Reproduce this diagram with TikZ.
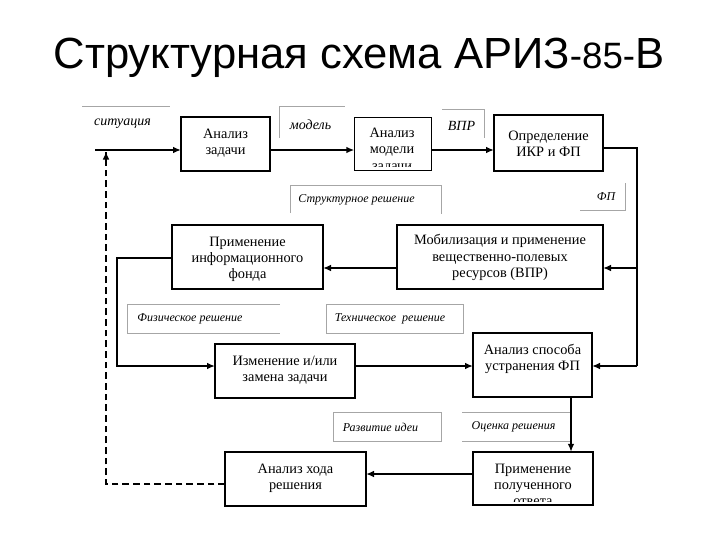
\documentclass[tikz,border=0pt]{standalone}
\usepackage{fontspec}
\setmainfont{Liberation Serif}
\newfontfamily\titlefont{Liberation Sans}
\usetikzlibrary{arrows.meta}
\begin{document}
\begin{tikzpicture}[x=0.75pt,y=-0.75pt,
  box/.style={draw,line width=1.1pt,inner sep=0pt,outer sep=0pt},
  txt/.style={align=center,inner sep=0pt,font=\fontsize{10.75}{12.2}\selectfont},
  lab/.style={inner sep=0pt,font=\fontsize{9}{10}\selectfont\itshape},
  labbig/.style={inner sep=0pt,font=\fontsize{10.5}{12}\selectfont\itshape},
  frame/.style={draw=black!35,line width=0.6pt},
  arr/.style={line width=1.7pt,-{Latex[length=6pt,width=5pt]}},
  thinarr/.style={line width=1.1pt,-{Latex[length=6pt,width=5pt]}},
  dashline/.style={line width=1.5pt,dash pattern=on 5pt off 3pt}
]
\useasboundingbox (0,0) rectangle (720,540);
% title
\node[anchor=base,inner sep=0pt,font=\titlefont\fontsize{32.7}{36}\selectfont] (title) at (359,68)
  {Структурная схема АРИЗ{\fontsize{27.5}{30}\selectfont-85-}В};

% boxes
\node[box,minimum width=66.75pt,minimum height=40.5pt] (b1) at (225.5,144) {};
\node[box,minimum width=58pt,minimum height=39.75pt] (b2) at (393,144) {};
\node[box,minimum width=81.75pt,minimum height=42pt] (b3) at (548.5,143) {};
\node[box,minimum width=113.25pt,minimum height=48pt] (b4) at (247.5,257) {};
\node[box,minimum width=154.5pt,minimum height=48pt] (b5) at (500,257) {};
\node[box,minimum width=105pt,minimum height=40.5pt] (b6) at (285,371) {};
\node[box,minimum width=89.25pt,minimum height=48pt] (b7) at (532.5,365) {};
\node[box,minimum width=90pt,minimum height=40pt] (b8) at (533,478.5) {};
\node[box,minimum width=105.75pt,minimum height=40.5pt] (b9) at (295.5,479) {};

% texts
\node[txt] (t1) at (225.5,143) {Анализ\\задачи};
\begin{scope}
  \clip ([yshift=3pt]b2.south west) rectangle (b2.north east);
  \node[txt] (t2) at (392,150.5) {Анализ\\модели\\задачи};
\end{scope}
\node[txt] (t3) at (548.5,143.5) {Определение\\ИКР и ФП};
\node[txt] (t4) at (247.5,259.5) {Применение\\информационного\\фонда};
\node[txt] (t5) at (500,257.5) {Мобилизация и применение\\вещественно-полевых\\ресурсов (ВПР)};
\node[txt] (t6) at (285,370) {Изменение и/или\\замена задачи};
\node[txt] (t7) at (532.5,359) {Анализ способа\\устранения ФП};
\begin{scope}
  \clip ([yshift=2.5pt]b8.south west) rectangle (b8.north east);
  \node[txt] (t8) at (533,485) {Применение\\полученного\\ответа};
\end{scope}
\node[txt] (t9) at (295.5,478) {Анализ хода\\решения};

% label frames
\draw[frame] (82,106) -- (170,106);
\draw[frame] (279,138) -- (279,106) -- (345,106);
\draw[frame] (442,109) -- (484,109) -- (484,138);
\draw[frame] (290,213) -- (290,185) -- (441,185) -- (441,214);
\draw[frame] (625,183) -- (625,210) -- (580,210);
\draw[frame] (280,304) -- (127,304) -- (127,333) -- (280,333);
\draw[frame] (326,304) rectangle (463,333);
\draw[frame] (333,412) rectangle (441,441);
\draw[frame] (462,412) -- (570,412) -- (570,441) -- (462,441);

% labels
\node[labbig] (l1) at (122.5,124) {ситуация};
\node[labbig] (l2) at (310.5,125) {модель};
\node[labbig] (l3) at (461.5,126) {ВПР};
\node[lab] (l4) at (356.5,199.5) {Структурное решение};
\node[lab] (l5) at (606,196.5) {ФП};
\node[lab] (l6) at (190,318.5) {Физическое решение};
\node[lab] (l7) at (390,318.5) {Техническое\ \ решение};
\node[lab] (l8) at (380.5,427) {Развитие идеи};
\node[lab] (l9) at (513.5,427) {Оценка решения};

% coordinates
\coordinate (in) at (95,150);
\coordinate (r1) at (637,148);
\coordinate (r2) at (637,268);
\coordinate (r3) at (637,366);
\coordinate (k1) at (117,258);
\coordinate (k2) at (117,366);
\coordinate (vx) at (571,420);
\coordinate (h8) at (420,474);
\coordinate (d1) at (106,484);
\coordinate (d2) at (106,151.5);

% connectors
\draw[arr] (in) -- (b1.west |- in);
\draw[arr] (b1.east |- in) -- (b2.west |- in);
\draw[arr] (b2.east |- in) -- (b3.west |- in);
\draw[line width=1.1pt] (b3.east |- r1) -- (r1) -- (r3);
\draw[arr] (r2) -- (b5.east |- r2);
\draw[arr] (r3) -- (b7.east |- r3);
\draw[arr] (b5.west |- r2) -- (b4.east |- r2);
\draw[arr] (b4.west |- k1) -- (k1) -- (k2) -- (b6.west |- k2);
\draw[arr] (b6.east |- k2) -- (b7.west |- k2);
\draw[arr] (b7.south -| vx) -- (b8.north -| vx);
\draw[thinarr,line width=1.4pt] (b8.west |- h8) -- (b9.east |- h8);
\draw[dashline] (b9.west |- d1) -- (d1) -- (d2);
\draw[line width=1.5pt,-{Latex[length=6pt,width=5pt]}] ([yshift=-1pt]d2) -- (d2);
\end{tikzpicture}
\end{document}
